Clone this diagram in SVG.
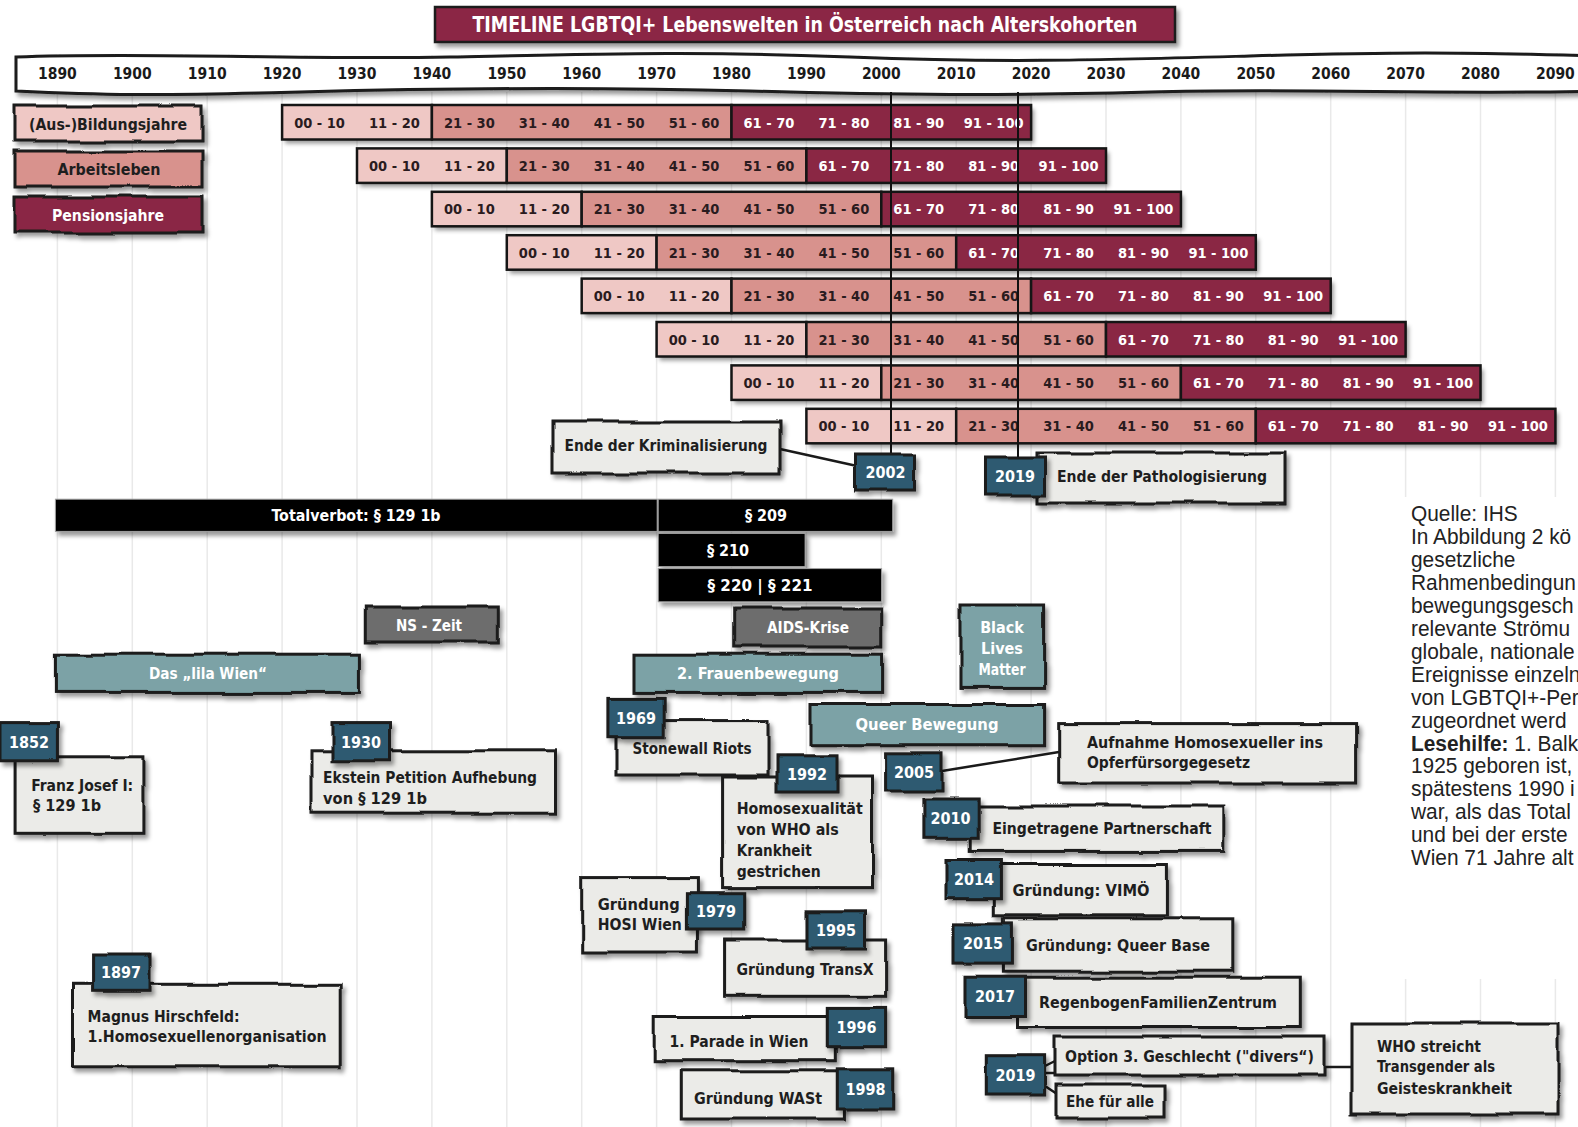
<svg xmlns="http://www.w3.org/2000/svg" width="1578" height="1127" viewBox="0 0 1578 1127">
<defs>
<style>
.f{font-family:"DejaVu Sans Condensed","DejaVu Sans",sans-serif;font-weight:bold}
.grid{stroke:#e9e9e9;stroke-width:1.5}
.c1{fill:#efc8c5;stroke:#151515;stroke-width:2.5}
.c2{fill:#d8928d;stroke:#151515;stroke-width:2.5}
.c3{fill:#8a2744;stroke:#151515;stroke-width:2.5}
.ct{font-size:14.5px;text-anchor:middle}
.dk{fill:#2a1b1e}
.wt{fill:#ffffff}
.yr{font-size:15.5px;text-anchor:middle;fill:#1a1a1a}
.box{fill:#ebebe8;stroke:#1a1a1a;stroke-width:3}
.tag{fill:#2f5a71;stroke:#1a1a1a;stroke-width:3}
.teal{fill:#7ca2a6;stroke:#1a1a1a;stroke-width:3}
.gray{fill:#6d6d6d;stroke:#1a1a1a;stroke-width:3}
.blk{fill:#000;stroke:#a0a0a0;stroke-width:1}
.et{font-size:16px;fill:#1e1e1e}
.tt{font-size:16px;fill:#fff;text-anchor:middle}
.mid{text-anchor:middle}
.conn{stroke:#1a1a1a;stroke-width:2.5;fill:none}
.vl{stroke:#111;stroke-width:2}
.src{font-family:"Liberation Sans",Arial,sans-serif;font-size:22px;fill:#222}
</style>
<filter id="sh" x="-0.1" y="-0.4" width="1.2" height="1.9">
<feGaussianBlur in="SourceAlpha" stdDeviation="2"/>
<feOffset dx="3" dy="4" result="o"/>
<feColorMatrix in="o" type="matrix" values="0 0 0 0 0 0 0 0 0 0 0 0 0 0 0 0 0 0 0.4 0" result="s"/>
<feMerge><feMergeNode in="s"/><feMergeNode in="SourceGraphic"/></feMerge>
</filter>
<filter id="wob" x="-0.3" y="-0.5" width="1.6" height="2.0">
<feTurbulence type="fractalNoise" baseFrequency="0.018" numOctaves="2" seed="4" result="n"/>
<feDisplacementMap in="SourceGraphic" in2="n" scale="6" xChannelSelector="R" yChannelSelector="G" result="d"/>
<feGaussianBlur in="d" stdDeviation="2"/>
<feOffset dx="3" dy="4" result="o"/>
<feColorMatrix in="o" type="matrix" values="0 0 0 0 0 0 0 0 0 0 0 0 0 0 0 0 0 0 0.4 0" result="s"/>
<feMerge><feMergeNode in="s"/><feMergeNode in="d"/></feMerge>
</filter>
</defs>
<rect width="1578" height="1127" fill="#fff"/>

<g id="grid">
<line class="grid" x1="57.4" y1="92" x2="57.4" y2="1127"/>
<line class="grid" x1="132.3" y1="92" x2="132.3" y2="1127"/>
<line class="grid" x1="207.2" y1="92" x2="207.2" y2="1127"/>
<line class="grid" x1="282.1" y1="92" x2="282.1" y2="1127"/>
<line class="grid" x1="357" y1="92" x2="357" y2="1127"/>
<line class="grid" x1="431.9" y1="92" x2="431.9" y2="1127"/>
<line class="grid" x1="506.8" y1="92" x2="506.8" y2="1127"/>
<line class="grid" x1="581.7" y1="92" x2="581.7" y2="1127"/>
<line class="grid" x1="656.6" y1="92" x2="656.6" y2="1127"/>
<line class="grid" x1="731.5" y1="92" x2="731.5" y2="1127"/>
<line class="grid" x1="806.4" y1="92" x2="806.4" y2="1127"/>
<line class="grid" x1="881.3" y1="92" x2="881.3" y2="1127"/>
<line class="grid" x1="956.2" y1="92" x2="956.2" y2="1127"/>
<line class="grid" x1="1031.1" y1="92" x2="1031.1" y2="1127"/>
<line class="grid" x1="1106" y1="92" x2="1106" y2="1127"/>
<line class="grid" x1="1180.9" y1="92" x2="1180.9" y2="1127"/>
<line class="grid" x1="1255.8" y1="92" x2="1255.8" y2="1127"/>
<line class="grid" x1="1330.7" y1="92" x2="1330.7" y2="1127"/>
<line class="grid" x1="1405.6" y1="92" x2="1405.6" y2="1127"/>
<line class="grid" x1="1480.5" y1="92" x2="1480.5" y2="1127"/>
<line class="grid" x1="1555.4" y1="92" x2="1555.4" y2="1127"/>
</g>

<g id="title">
<rect x="435" y="7" width="740" height="35" fill="#8b2745" stroke="#1a1a1a" stroke-width="2.5" filter="url(#sh)"/>
<text class="f" x="805" y="31.5" font-size="21" fill="#fff" text-anchor="middle" textLength="665" lengthAdjust="spacingAndGlyphs">TIMELINE LGBTQI+ Lebenswelten in Österreich nach Alterskohorten</text>
</g>

<g id="axis">
<path d="M16,57 C150,52 300,60 450,57 S700,51 850,57 S1100,60 1250,56 S1450,52 1600,56 L1600,91 C1450,95 1300,88 1150,92 S900,95 750,91 S450,88 300,92 S100,95 16,91 Z" fill="#fff" stroke="#1a1a1a" stroke-width="3" filter="url(#sh)"/>
<text class="f yr" x="57.4" y="79">1890</text>
<text class="f yr" x="132.3" y="79">1900</text>
<text class="f yr" x="207.2" y="79">1910</text>
<text class="f yr" x="282.1" y="79">1920</text>
<text class="f yr" x="357" y="79">1930</text>
<text class="f yr" x="431.9" y="79">1940</text>
<text class="f yr" x="506.8" y="79">1950</text>
<text class="f yr" x="581.7" y="79">1960</text>
<text class="f yr" x="656.6" y="79">1970</text>
<text class="f yr" x="731.5" y="79">1980</text>
<text class="f yr" x="806.4" y="79">1990</text>
<text class="f yr" x="881.3" y="79">2000</text>
<text class="f yr" x="956.2" y="79">2010</text>
<text class="f yr" x="1031.1" y="79">2020</text>
<text class="f yr" x="1106" y="79">2030</text>
<text class="f yr" x="1180.9" y="79">2040</text>
<text class="f yr" x="1255.8" y="79">2050</text>
<text class="f yr" x="1330.7" y="79">2060</text>
<text class="f yr" x="1405.6" y="79">2070</text>
<text class="f yr" x="1480.5" y="79">2080</text>
<text class="f yr" x="1555.4" y="79">2090</text>
</g>

<g id="legend-bildung">
<rect x="14" y="106" width="188" height="35" fill="#efc8c5" stroke="#1a1a1a" stroke-width="3" filter="url(#wob)"/>
<text class="f mid" x="108" y="129.5" font-size="16" fill="#1e1e1e" textLength="158" lengthAdjust="spacingAndGlyphs">(Aus-)Bildungsjahre</text>
</g>
<g id="legend-arbeit">
<rect x="14" y="151" width="188" height="36" fill="#d8928d" stroke="#1a1a1a" stroke-width="3" filter="url(#wob)"/>
<text class="f mid" x="109" y="175" font-size="16" fill="#1e1e1e" textLength="103" lengthAdjust="spacingAndGlyphs">Arbeitsleben</text>
</g>
<g id="legend-pension">
<rect x="14" y="197" width="188" height="36" fill="#8a2744" stroke="#1a1a1a" stroke-width="3" filter="url(#wob)"/>
<text class="f mid" x="108" y="220.5" font-size="16" fill="#fff" textLength="112" lengthAdjust="spacingAndGlyphs">Pensionsjahre</text>
</g>

<g id="cohort-1" transform="translate(282.1,105)">
<rect x="0" y="0" width="749" height="34.5" fill="#000" filter="url(#sh)"/>
<rect class="c1" x="0" y="0" width="149.8" height="34.5"/><rect class="c2" x="149.8" y="0" width="299.6" height="34.5"/><rect class="c3" x="449.4" y="0" width="299.6" height="34.5"/>
<text class="f ct dk" x="37.45" y="22.5">00 - 10</text><text class="f ct dk" x="112.35" y="22.5">11 - 20</text><text class="f ct dk" x="187.25" y="22.5">21 - 30</text><text class="f ct dk" x="262.15" y="22.5">31 - 40</text><text class="f ct dk" x="337.05" y="22.5">41 - 50</text><text class="f ct dk" x="411.95" y="22.5">51 - 60</text><text class="f ct wt" x="486.85" y="22.5">61 - 70</text><text class="f ct wt" x="561.75" y="22.5">71 - 80</text><text class="f ct wt" x="636.65" y="22.5">81 - 90</text><text class="f ct wt" x="711.55" y="22.5">91 - 100</text>
</g>
<g id="cohort-2" transform="translate(357,148.4)">
<rect x="0" y="0" width="749" height="34.5" fill="#000" filter="url(#sh)"/>
<rect class="c1" x="0" y="0" width="149.8" height="34.5"/><rect class="c2" x="149.8" y="0" width="299.6" height="34.5"/><rect class="c3" x="449.4" y="0" width="299.6" height="34.5"/>
<text class="f ct dk" x="37.45" y="22.5">00 - 10</text><text class="f ct dk" x="112.35" y="22.5">11 - 20</text><text class="f ct dk" x="187.25" y="22.5">21 - 30</text><text class="f ct dk" x="262.15" y="22.5">31 - 40</text><text class="f ct dk" x="337.05" y="22.5">41 - 50</text><text class="f ct dk" x="411.95" y="22.5">51 - 60</text><text class="f ct wt" x="486.85" y="22.5">61 - 70</text><text class="f ct wt" x="561.75" y="22.5">71 - 80</text><text class="f ct wt" x="636.65" y="22.5">81 - 90</text><text class="f ct wt" x="711.55" y="22.5">91 - 100</text>
</g>
<g id="cohort-3" transform="translate(431.9,191.8)">
<rect x="0" y="0" width="749" height="34.5" fill="#000" filter="url(#sh)"/>
<rect class="c1" x="0" y="0" width="149.8" height="34.5"/><rect class="c2" x="149.8" y="0" width="299.6" height="34.5"/><rect class="c3" x="449.4" y="0" width="299.6" height="34.5"/>
<text class="f ct dk" x="37.45" y="22.5">00 - 10</text><text class="f ct dk" x="112.35" y="22.5">11 - 20</text><text class="f ct dk" x="187.25" y="22.5">21 - 30</text><text class="f ct dk" x="262.15" y="22.5">31 - 40</text><text class="f ct dk" x="337.05" y="22.5">41 - 50</text><text class="f ct dk" x="411.95" y="22.5">51 - 60</text><text class="f ct wt" x="486.85" y="22.5">61 - 70</text><text class="f ct wt" x="561.75" y="22.5">71 - 80</text><text class="f ct wt" x="636.65" y="22.5">81 - 90</text><text class="f ct wt" x="711.55" y="22.5">91 - 100</text>
</g>
<g id="cohort-4" transform="translate(506.8,235.2)">
<rect x="0" y="0" width="749" height="34.5" fill="#000" filter="url(#sh)"/>
<rect class="c1" x="0" y="0" width="149.8" height="34.5"/><rect class="c2" x="149.8" y="0" width="299.6" height="34.5"/><rect class="c3" x="449.4" y="0" width="299.6" height="34.5"/>
<text class="f ct dk" x="37.45" y="22.5">00 - 10</text><text class="f ct dk" x="112.35" y="22.5">11 - 20</text><text class="f ct dk" x="187.25" y="22.5">21 - 30</text><text class="f ct dk" x="262.15" y="22.5">31 - 40</text><text class="f ct dk" x="337.05" y="22.5">41 - 50</text><text class="f ct dk" x="411.95" y="22.5">51 - 60</text><text class="f ct wt" x="486.85" y="22.5">61 - 70</text><text class="f ct wt" x="561.75" y="22.5">71 - 80</text><text class="f ct wt" x="636.65" y="22.5">81 - 90</text><text class="f ct wt" x="711.55" y="22.5">91 - 100</text>
</g>
<g id="cohort-5" transform="translate(581.7,278.6)">
<rect x="0" y="0" width="749" height="34.5" fill="#000" filter="url(#sh)"/>
<rect class="c1" x="0" y="0" width="149.8" height="34.5"/><rect class="c2" x="149.8" y="0" width="299.6" height="34.5"/><rect class="c3" x="449.4" y="0" width="299.6" height="34.5"/>
<text class="f ct dk" x="37.45" y="22.5">00 - 10</text><text class="f ct dk" x="112.35" y="22.5">11 - 20</text><text class="f ct dk" x="187.25" y="22.5">21 - 30</text><text class="f ct dk" x="262.15" y="22.5">31 - 40</text><text class="f ct dk" x="337.05" y="22.5">41 - 50</text><text class="f ct dk" x="411.95" y="22.5">51 - 60</text><text class="f ct wt" x="486.85" y="22.5">61 - 70</text><text class="f ct wt" x="561.75" y="22.5">71 - 80</text><text class="f ct wt" x="636.65" y="22.5">81 - 90</text><text class="f ct wt" x="711.55" y="22.5">91 - 100</text>
</g>
<g id="cohort-6" transform="translate(656.6,322)">
<rect x="0" y="0" width="749" height="34.5" fill="#000" filter="url(#sh)"/>
<rect class="c1" x="0" y="0" width="149.8" height="34.5"/><rect class="c2" x="149.8" y="0" width="299.6" height="34.5"/><rect class="c3" x="449.4" y="0" width="299.6" height="34.5"/>
<text class="f ct dk" x="37.45" y="22.5">00 - 10</text><text class="f ct dk" x="112.35" y="22.5">11 - 20</text><text class="f ct dk" x="187.25" y="22.5">21 - 30</text><text class="f ct dk" x="262.15" y="22.5">31 - 40</text><text class="f ct dk" x="337.05" y="22.5">41 - 50</text><text class="f ct dk" x="411.95" y="22.5">51 - 60</text><text class="f ct wt" x="486.85" y="22.5">61 - 70</text><text class="f ct wt" x="561.75" y="22.5">71 - 80</text><text class="f ct wt" x="636.65" y="22.5">81 - 90</text><text class="f ct wt" x="711.55" y="22.5">91 - 100</text>
</g>
<g id="cohort-7" transform="translate(731.5,365.4)">
<rect x="0" y="0" width="749" height="34.5" fill="#000" filter="url(#sh)"/>
<rect class="c1" x="0" y="0" width="149.8" height="34.5"/><rect class="c2" x="149.8" y="0" width="299.6" height="34.5"/><rect class="c3" x="449.4" y="0" width="299.6" height="34.5"/>
<text class="f ct dk" x="37.45" y="22.5">00 - 10</text><text class="f ct dk" x="112.35" y="22.5">11 - 20</text><text class="f ct dk" x="187.25" y="22.5">21 - 30</text><text class="f ct dk" x="262.15" y="22.5">31 - 40</text><text class="f ct dk" x="337.05" y="22.5">41 - 50</text><text class="f ct dk" x="411.95" y="22.5">51 - 60</text><text class="f ct wt" x="486.85" y="22.5">61 - 70</text><text class="f ct wt" x="561.75" y="22.5">71 - 80</text><text class="f ct wt" x="636.65" y="22.5">81 - 90</text><text class="f ct wt" x="711.55" y="22.5">91 - 100</text>
</g>
<g id="cohort-8" transform="translate(806.4,408.8)">
<rect x="0" y="0" width="749" height="34.5" fill="#000" filter="url(#sh)"/>
<rect class="c1" x="0" y="0" width="149.8" height="34.5"/><rect class="c2" x="149.8" y="0" width="299.6" height="34.5"/><rect class="c3" x="449.4" y="0" width="299.6" height="34.5"/>
<text class="f ct dk" x="37.45" y="22.5">00 - 10</text><text class="f ct dk" x="112.35" y="22.5">11 - 20</text><text class="f ct dk" x="187.25" y="22.5">21 - 30</text><text class="f ct dk" x="262.15" y="22.5">31 - 40</text><text class="f ct dk" x="337.05" y="22.5">41 - 50</text><text class="f ct dk" x="411.95" y="22.5">51 - 60</text><text class="f ct wt" x="486.85" y="22.5">61 - 70</text><text class="f ct wt" x="561.75" y="22.5">71 - 80</text><text class="f ct wt" x="636.65" y="22.5">81 - 90</text><text class="f ct wt" x="711.55" y="22.5">91 - 100</text>
</g>

<g id="connectors">
<line class="vl" x1="891" y1="92" x2="891" y2="456"/>
<line class="vl" x1="1018" y1="92" x2="1018" y2="460"/>
<line class="conn" x1="780" y1="449" x2="857" y2="466"/>
<line class="conn" x1="942" y1="771" x2="1059" y2="752"/>
<path class="conn" d="M1045,1066 L1057,1060 M1045,1073 L1057,1073 M1045,1086 L1057,1094"/>
<line class="conn" x1="1324" y1="1067" x2="1353" y2="1067"/>
</g>

<g id="ende-kriminalisierung">
<rect class="box" x="553" y="422" width="227" height="51" filter="url(#wob)"/>
<text class="f et mid" x="666" y="450.5" textLength="203" lengthAdjust="spacingAndGlyphs">Ende der Kriminalisierung</text>
</g>
<g id="tag-2002">
<rect class="tag" x="855.5" y="454" width="60" height="36" filter="url(#wob)"/>
<text class="f tt" x="885.5" y="477.5">2002</text>
</g>
<g id="ende-pathologisierung">
<rect class="box" x="1037" y="453" width="248" height="50" filter="url(#wob)"/>
<text class="f et mid" x="1162" y="481.5" textLength="210" lengthAdjust="spacingAndGlyphs">Ende der Pathologisierung</text>
</g>
<g id="tag-2019a">
<rect class="tag" x="985.5" y="458" width="59" height="37" filter="url(#wob)"/>
<text class="f tt" x="1015" y="482">2019</text>
</g>

<g id="totalverbot">
<rect class="blk" x="55.4" y="499.2" width="601.8" height="32.2" filter="url(#sh)"/>
<text class="f mid" x="356" y="520.5" font-size="16" fill="#fff" textLength="169" lengthAdjust="spacingAndGlyphs">Totalverbot: § 129 1b</text>
</g>
<g id="p209">
<rect class="blk" x="658.2" y="499.2" width="234.5" height="32.2" filter="url(#sh)"/>
<text class="f mid" x="766" y="520.5" font-size="16" fill="#fff">§ 209</text>
</g>
<g id="p210">
<rect class="blk" x="658.2" y="533.4" width="146.9" height="33.2" filter="url(#sh)"/>
<text class="f mid" x="728" y="555.5" font-size="16" fill="#fff">§ 210</text>
</g>
<g id="p220">
<rect class="blk" x="658.2" y="568.6" width="223.4" height="33.2" filter="url(#sh)"/>
<text class="f mid" x="760" y="591" font-size="16" fill="#fff" textLength="105" lengthAdjust="spacingAndGlyphs">§ 220 | § 221</text>
</g>

<g id="ns-zeit">
<rect class="gray" x="365.3" y="607" width="133" height="35" filter="url(#wob)"/>
<text class="f mid" x="429" y="630.5" font-size="16" fill="#fff" textLength="66" lengthAdjust="spacingAndGlyphs">NS - Zeit</text>
</g>
<g id="aids-krise">
<rect class="gray" x="733.7" y="608" width="148" height="39" filter="url(#wob)"/>
<text class="f mid" x="808" y="633" font-size="16" fill="#fff" textLength="82" lengthAdjust="spacingAndGlyphs">AIDS-Krise</text>
</g>
<g id="lila-wien">
<rect class="teal" x="55.4" y="654.2" width="304" height="38.2" filter="url(#wob)"/>
<text class="f mid" x="208" y="679" font-size="16" fill="#fff" textLength="118" lengthAdjust="spacingAndGlyphs">Das „lila Wien“</text>
</g>
<g id="frauenbewegung">
<rect class="teal" x="634" y="654.2" width="248.6" height="38.2" filter="url(#wob)"/>
<text class="f mid" x="758" y="679" font-size="16" fill="#fff" textLength="162" lengthAdjust="spacingAndGlyphs">2. Frauenbewegung</text>
</g>
<g id="black-lives-matter">
<rect class="teal" x="960" y="605" width="84.6" height="82.4" filter="url(#wob)"/>
<text class="f mid" x="1002" y="632.5" font-size="16" fill="#fff">Black</text>
<text class="f mid" x="1002" y="653.5" font-size="16" fill="#fff">Lives</text>
<text class="f mid" x="1002" y="674.5" font-size="16" fill="#fff" textLength="47" lengthAdjust="spacingAndGlyphs">Matter</text>
</g>
<g id="queer-bewegung">
<rect class="teal" x="810" y="704.5" width="234.6" height="40.2" filter="url(#wob)"/>
<text class="f mid" x="927" y="730" font-size="16" fill="#fff" textLength="143" lengthAdjust="spacingAndGlyphs">Queer Bewegung</text>
</g>

<g id="ev-1852">
<rect class="box" x="15.1" y="756.8" width="127.8" height="76.5" filter="url(#wob)"/>
<text class="f et" x="31.2" y="790.5" textLength="102" lengthAdjust="spacingAndGlyphs">Franz Josef I:</text>
<text class="f et" x="33" y="810.5" textLength="68" lengthAdjust="spacingAndGlyphs">§ 129 1b</text>
<rect class="tag" x="0" y="722.6" width="58.4" height="38.2" filter="url(#wob)"/>
<text class="f tt" x="29" y="747.5">1852</text>
</g>
<g id="ev-1930">
<rect class="box" x="311" y="750.8" width="244.5" height="62.4" filter="url(#wob)"/>
<text class="f et" x="323" y="782.5" textLength="214" lengthAdjust="spacingAndGlyphs">Ekstein Petition Aufhebung</text>
<text class="f et" x="323" y="803.5" textLength="104" lengthAdjust="spacingAndGlyphs">von § 129 1b</text>
<rect class="tag" x="332" y="722.6" width="58.5" height="38.2" filter="url(#wob)"/>
<text class="f tt" x="361" y="747.5">1930</text>
</g>
<g id="ev-1969">
<rect class="box" x="616" y="720.6" width="152" height="54.4" filter="url(#wob)"/>
<text class="f et mid" x="692" y="754" textLength="119" lengthAdjust="spacingAndGlyphs">Stonewall Riots</text>
<rect class="tag" x="607.9" y="698.4" width="56.3" height="39.3" filter="url(#wob)"/>
<text class="f tt" x="636" y="723.5">1969</text>
</g>
<g id="ev-1992">
<rect class="box" x="722.6" y="777" width="148.9" height="110.6" filter="url(#wob)"/>
<text class="f et" x="736.7" y="813.5" textLength="126" lengthAdjust="spacingAndGlyphs">Homosexualität</text>
<text class="f et" x="736.7" y="834.8" textLength="102" lengthAdjust="spacingAndGlyphs">von WHO als</text>
<text class="f et" x="736.7" y="855.9" textLength="75" lengthAdjust="spacingAndGlyphs">Krankheit</text>
<text class="f et" x="736.7" y="877" textLength="84" lengthAdjust="spacingAndGlyphs">gestrichen</text>
<rect class="tag" x="777" y="755.8" width="60" height="36.2" filter="url(#wob)"/>
<text class="f tt" x="807" y="779.5">1992</text>
</g>
<g id="ev-1979">
<rect class="box" x="581.7" y="877.6" width="115.7" height="74.4" filter="url(#wob)"/>
<text class="f et" x="597.8" y="910.3" textLength="82" lengthAdjust="spacingAndGlyphs">Gründung</text>
<text class="f et" x="597.8" y="930.4" textLength="84" lengthAdjust="spacingAndGlyphs">HOSI Wien</text>
<rect class="tag" x="687.4" y="892.7" width="57.3" height="37.3" filter="url(#wob)"/>
<text class="f tt" x="716" y="916.5">1979</text>
</g>
<g id="ev-1995">
<rect class="box" x="724.6" y="940" width="161" height="56.3" filter="url(#wob)"/>
<text class="f et mid" x="805" y="974.5" textLength="137" lengthAdjust="spacingAndGlyphs">Gründung TransX</text>
<rect class="tag" x="807" y="911.8" width="58.5" height="36.2" filter="url(#wob)"/>
<text class="f tt" x="836" y="935.5">1995</text>
</g>
<g id="ev-1996">
<rect class="box" x="654.2" y="1016.5" width="181.1" height="44.2" filter="url(#wob)"/>
<text class="f et mid" x="739" y="1047" textLength="139" lengthAdjust="spacingAndGlyphs">1. Parade in Wien</text>
<rect class="tag" x="827.3" y="1008.4" width="58.3" height="38.3" filter="url(#wob)"/>
<text class="f tt" x="856.5" y="1033">1996</text>
</g>
<g id="ev-1998">
<rect class="box" x="681.3" y="1070.8" width="164.1" height="48.2" filter="url(#wob)"/>
<text class="f et mid" x="758" y="1103.5" textLength="128" lengthAdjust="spacingAndGlyphs">Gründung WASt</text>
<rect class="tag" x="837.3" y="1068.8" width="56.4" height="40.2" filter="url(#wob)"/>
<text class="f tt" x="865.5" y="1094.5">1998</text>
</g>
<g id="ev-1897">
<rect class="box" x="72.5" y="984.3" width="267.7" height="82.5" filter="url(#wob)"/>
<text class="f et" x="87.6" y="1022" textLength="152" lengthAdjust="spacingAndGlyphs">Magnus Hirschfeld:</text>
<text class="f et" x="87.6" y="1042" textLength="239" lengthAdjust="spacingAndGlyphs">1.Homosexuellenorganisation</text>
<rect class="tag" x="92.6" y="954" width="56.4" height="37.3" filter="url(#wob)"/>
<text class="f tt" x="121" y="978">1897</text>
</g>
<g id="ev-2005">
<rect class="box" x="1058.7" y="723.6" width="296.9" height="59.4" filter="url(#wob)"/>
<text class="f et" x="1087" y="748.2" textLength="236" lengthAdjust="spacingAndGlyphs">Aufnahme Homosexueller ins</text>
<text class="f et" x="1087" y="768.4" textLength="163" lengthAdjust="spacingAndGlyphs">Opferfürsorgegesetz</text>
<rect class="tag" x="885.6" y="752.8" width="56.4" height="38.2" filter="url(#wob)"/>
<text class="f tt" x="914" y="777.5">2005</text>
</g>
<g id="ev-2010">
<rect class="box" x="970.2" y="806" width="253.6" height="45.4" filter="url(#wob)"/>
<text class="f et mid" x="1102" y="834" textLength="219" lengthAdjust="spacingAndGlyphs">Eingetragene Partnerschaft</text>
<rect class="tag" x="922.9" y="799" width="55.3" height="39.3" filter="url(#wob)"/>
<text class="f tt" x="950.5" y="824">2010</text>
</g>
<g id="ev-2014">
<rect class="box" x="994.3" y="864.5" width="173.1" height="51.3" filter="url(#wob)"/>
<text class="f et mid" x="1081" y="896" textLength="137" lengthAdjust="spacingAndGlyphs">Gründung: VIMÖ</text>
<rect class="tag" x="946" y="860.5" width="55.4" height="38.2" filter="url(#wob)"/>
<text class="f tt" x="974" y="885">2014</text>
</g>
<g id="ev-2015">
<rect class="box" x="1003.4" y="918.8" width="229.4" height="52.4" filter="url(#wob)"/>
<text class="f et mid" x="1118" y="950.5" textLength="184" lengthAdjust="spacingAndGlyphs">Gründung: Queer Base</text>
<rect class="tag" x="954" y="923.9" width="57.4" height="39.2" filter="url(#wob)"/>
<text class="f tt" x="983" y="949">2015</text>
</g>
<g id="ev-2017">
<rect class="box" x="1016.5" y="977.2" width="283.8" height="50.3" filter="url(#wob)"/>
<text class="f et mid" x="1158" y="1008" textLength="238" lengthAdjust="spacingAndGlyphs">RegenbogenFamilienZentrum</text>
<rect class="tag" x="966" y="976.2" width="58.5" height="40.3" filter="url(#wob)"/>
<text class="f tt" x="995" y="1002">2017</text>
</g>
<g id="ev-2019-option">
<rect class="box" x="1055" y="1037" width="269" height="38" filter="url(#wob)"/>
<text class="f et mid" x="1189.5" y="1062" textLength="249" lengthAdjust="spacingAndGlyphs">Option 3. Geschlecht ("divers“)</text>
</g>
<g id="ev-2019-ehe">
<rect class="box" x="1056" y="1085" width="108" height="33" filter="url(#wob)"/>
<text class="f et mid" x="1110" y="1106.5" textLength="88" lengthAdjust="spacingAndGlyphs">Ehe für alle</text>
</g>
<g id="tag-2019b">
<rect class="tag" x="986.3" y="1055.7" width="58.3" height="39.3" filter="url(#wob)"/>
<text class="f tt" x="1015.5" y="1080.5">2019</text>
</g>
<g id="ev-who">
<rect class="box" x="1352" y="1024" width="206" height="90" filter="url(#wob)"/>
<text class="f et" x="1377" y="1052" textLength="104" lengthAdjust="spacingAndGlyphs">WHO streicht</text>
<text class="f et" x="1377" y="1072.3" textLength="118" lengthAdjust="spacingAndGlyphs">Transgender als</text>
<text class="f et" x="1377" y="1093.5" textLength="135" lengthAdjust="spacingAndGlyphs">Geisteskrankheit</text>
</g>

<g id="source-text">
<rect x="1400" y="497" width="178" height="482" fill="#fff"/>
<g transform="translate(1411,0) scale(0.95,1)">
<text class="src" x="0" y="521">Quelle: IHS</text>
<text class="src" x="0" y="544">In Abbildung 2 kö</text>
<text class="src" x="0" y="567">gesetzliche</text>
<text class="src" x="0" y="590">Rahmenbedingun</text>
<text class="src" x="0" y="613">bewegungsgesch</text>
<text class="src" x="0" y="636">relevante Strömu</text>
<text class="src" x="0" y="659">globale, nationale</text>
<text class="src" x="0" y="682">Ereignisse einzeln</text>
<text class="src" x="0" y="705">von LGBTQI+-Per</text>
<text class="src" x="0" y="728">zugeordnet werd</text>
<text class="src" x="0" y="751"><tspan font-weight="bold">Lesehilfe:</tspan> 1. Balk</text>
<text class="src" x="0" y="773.5">1925 geboren ist,</text>
<text class="src" x="0" y="796.5">spätestens 1990 i</text>
<text class="src" x="0" y="819.5">war, als das Total</text>
<text class="src" x="0" y="842.5">und bei der erste</text>
<text class="src" x="0" y="865.5">Wien 71 Jahre alt</text>
</g>
</g>
</svg>
